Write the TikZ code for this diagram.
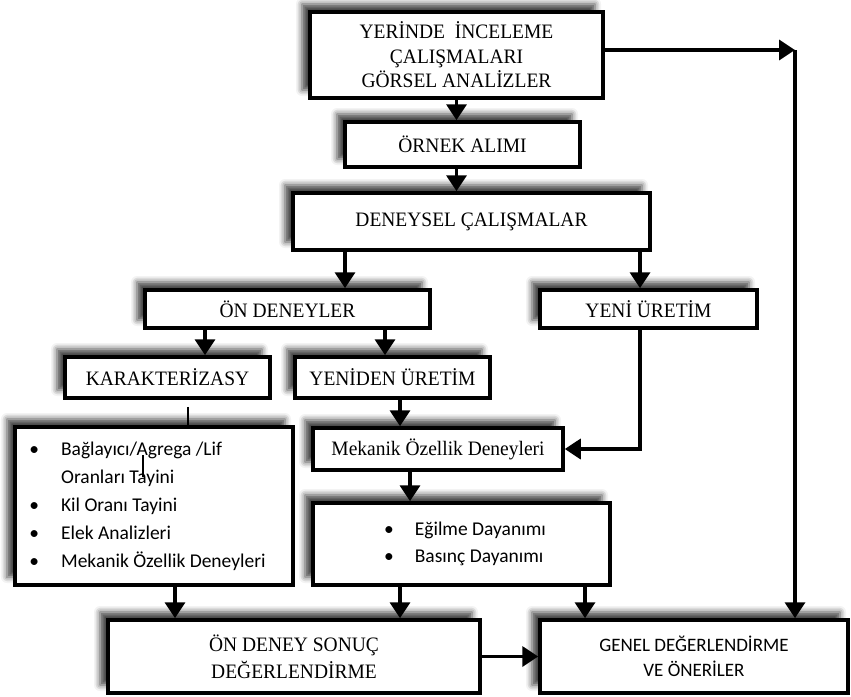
\documentclass[tikz,border=0pt]{standalone}
\usepackage{fontspec}
\setmainfont{Liberation Serif}[FakeStretch=0.95]
\newfontfamily\calib{Carlito}
\usetikzlibrary{arrows.meta,shadows.blur}
\begin{document}
\begin{tikzpicture}[x=1pt,y=-1pt,
  box/.style={draw,line width=3.5pt,fill=white,inner sep=0pt,align=center,
    font=\fontsize{20.5}{24.5}\selectfont,
    blur shadow={shadow xshift=-8pt,shadow yshift=8pt,shadow blur radius=6pt,shadow opacity=75}},
  sansbox/.style={box,font=\calib\fontsize{19}{25}\selectfont},
  listbox/.style={box,font=\calib\fontsize{19.5}{28}\selectfont},
  arr/.style={line width=3.5pt,-{Triangle[width=20pt,length=16pt]}},
  thinline/.style={line width=1.2pt}
  ]
\useasboundingbox (0,0) rectangle (851,696);

\node[box,minimum width=293pt,minimum height=86pt] (top) at (456.5,55)
  {YERİNDE\ \ İNCELEME\\ÇALIŞMALARI\\GÖRSEL ANALİZLER};
\node[box,minimum width=235pt,minimum height=45pt] (ornek) at (462.5,144.5) {ÖRNEK ALIMI};
\node[box,minimum width=357pt,minimum height=57pt] (den) at (471.5,221.5) {DENEYSEL ÇALIŞMALAR};
\node[box,minimum width=285pt,minimum height=38pt] (onden) at (287.5,309) {ÖN DENEYLER};
\node[box,minimum width=217pt,minimum height=38pt] (yeni) at (648.5,309) {YENİ ÜRETİM};
\node[box,minimum width=205pt,minimum height=41pt] (karak) at (167.5,377.5) {KARAKTERİZASY};
\node[box,minimum width=195pt,minimum height=41pt] (yeniden) at (392.5,377.5) {YENİDEN ÜRETİM};
\node[listbox,minimum width=278pt,minimum height=158pt] (bul) at (154,506)
  {\begin{tabular}{@{}l@{\hspace{22pt}}l@{}}
   \textbullet & Bağlayıcı/Agrega /Lif\\
               & Oranları Tayini\\
   \textbullet & Kil Oranı Tayini\\
   \textbullet & Elek Analizleri\\
   \textbullet & Mekanik Özellik Deneyleri
   \end{tabular}\hspace*{13pt}};
\node[box,minimum width=250pt,minimum height=42pt] (mek) at (438,449) {Mekanik Özellik Deneyleri};
\node[listbox,font=\calib\fontsize{19.5}{27}\selectfont,minimum width=297pt,minimum height=82pt] (egil) at (461.5,544)
  {\hspace*{7pt}\begin{tabular}{@{}l@{\hspace{21pt}}l@{}}
   \textbullet & Eğilme Dayanımı\\
   \textbullet & Basınç Dayanımı
   \end{tabular}};
\node[box,font=\fontsize{20.5}{27}\selectfont,minimum width=372pt,minimum height=73pt] (onsonuc) at (294,656.5)
  {ÖN DENEY SONUÇ\\DEĞERLENDİRME};
\node[sansbox,minimum width=308pt,minimum height=73pt] (genel) at (694,656.5)
  {GENEL DEĞERLENDİRME\\VE ÖNERİLER};

\coordinate (corner) at (795,50);

\draw[arr] (top.south) -- (top.south |- ornek.north);
\draw[arr] (ornek.south -| top.south) -- (top.south |- den.north);
\draw[arr] ([xshift=-126.5pt]den.south) -- ([xshift=-126.5pt]den.south |- onden.north);
\draw[arr] ([xshift=168.5pt]den.south) -- ([xshift=168.5pt]den.south |- yeni.north);
\draw[arr] ([xshift=-82.5pt]onden.south) -- ([xshift=-82.5pt]onden.south |- karak.north);
\draw[arr] ([xshift=97.5pt]onden.south) -- ([xshift=97.5pt]onden.south |- yeniden.north);
\draw[arr] ([xshift=7.5pt]yeniden.south) -- ([xshift=7.5pt]yeniden.south |- mek.north);
\draw[arr] ([xshift=-8.5pt]yeni.south) |- (mek.east);
\draw[arr] ([xshift=-28pt]mek.south) -- ([xshift=-28pt]mek.south |- egil.north);
\draw[thinline] ([xshift=20.5pt,yshift=-7pt]karak.south) -- ([xshift=20.5pt]karak.south |- bul.north);
\draw[thinline] ([xshift=-11pt,yshift=51pt]bul.center) -- ([xshift=-11pt,yshift=29pt]bul.center);
\draw[arr] ([xshift=21pt]bul.south) -- ([xshift=21pt]bul.south |- onsonuc.north);
\draw[arr] ([xshift=-61.5pt]egil.south) -- ([xshift=-61.5pt]egil.south |- onsonuc.north);
\draw[arr] ([xshift=123.5pt]egil.south) -- ([xshift=123.5pt]egil.south |- genel.north);
\draw[arr] ([yshift=5pt]top.east) -- (corner);
\draw[arr] (corner) -- (corner |- genel.north);
\draw[arr] (onsonuc.east) -- (genel.west);
\end{tikzpicture}
\end{document}
